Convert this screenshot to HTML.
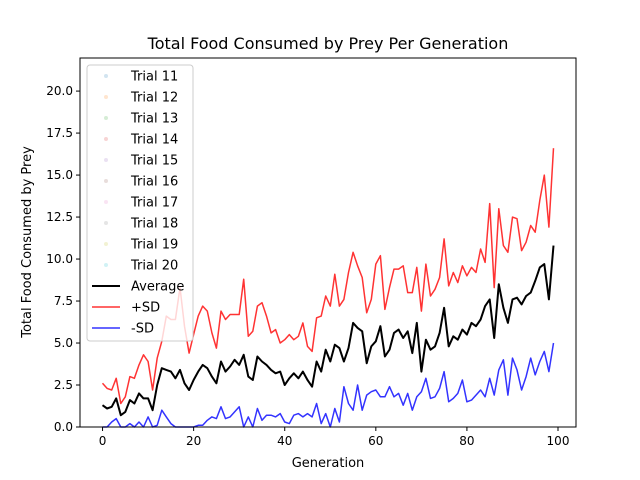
<!DOCTYPE html>
<html><head><meta charset="utf-8"><style>
body{margin:0;background:#fff}
svg{display:block;font-family:"DejaVu Sans","Liberation Sans",sans-serif}
</style></head><body>
<svg id="chart" width="640" height="480" viewBox="0 0 640 480">
<rect width="640" height="480" fill="#fff"/>
<text x="328" y="49" font-size="16" text-anchor="middle">Total Food Consumed by Prey Per Generation</text>
<g id="plot"></g>
<rect x="80" y="58" width="496" height="369" fill="none" stroke="#000" stroke-width="1"/>
<g id="ticks"></g>
<text x="328" y="467" font-size="13" text-anchor="middle">Generation</text>
<text transform="translate(31,242) rotate(-90)" font-size="13" text-anchor="middle">Total Food Consumed by Prey</text>
<g id="legend"></g>
</svg>
<script>
const avgValues=[1.3,1.1,1.2,1.7,0.7,0.9,1.6,1.4,2.0,1.7,
1.7,1.0,2.5,3.5,3.4,3.3,2.9,3.4,2.6,2.2,
2.8,3.3,3.7,3.5,3.0,2.6,3.9,3.3,3.6,4.0,
3.7,4.3,3.0,2.8,4.2,3.9,3.7,3.4,3.2,3.3,
2.5,2.9,3.2,2.9,3.3,2.8,2.4,3.9,3.3,4.6,
3.9,4.9,4.7,3.9,4.7,6.2,5.9,5.7,3.8,4.8,
5.1,6.0,4.2,4.6,5.6,5.8,5.3,5.7,4.4,6.2,
3.3,5.2,4.6,4.8,5.6,7.1,4.8,5.4,5.2,5.8,
5.5,6.2,6.0,6.4,7.2,7.6,5.3,8.5,7.1,6.2,
7.6,7.7,7.3,7.8,8.0,8.7,9.5,9.7,7.6,10.8];
const plusSdValues=[2.6,2.3,2.2,2.9,1.4,1.8,3.0,2.9,3.7,4.3,
3.9,2.2,4.1,5.1,6.6,6.4,6.4,8.3,6.0,4.4,
5.5,6.6,7.2,6.9,5.6,4.7,6.9,6.4,6.7,6.7,
6.7,8.8,5.4,5.7,7.2,7.4,6.6,5.6,5.8,5.0,
5.2,5.5,5.2,5.4,6.2,4.8,4.5,6.5,6.6,7.8,
7.2,9.1,7.2,7.6,9.2,10.4,9.6,8.9,6.8,7.6,
9.7,10.2,7.0,8.3,9.4,9.4,9.6,8.0,8.0,9.5,
6.9,9.7,7.8,8.2,8.9,11.2,8.4,9.2,8.6,9.6,
9.0,9.5,9.2,10.6,9.8,13.3,8.3,13.0,10.8,10.4,
12.5,12.4,10.5,11.0,12.0,11.6,13.5,15.0,11.9,16.6];
const minusSdValues=[0,0,0.3,0.5,0,0,0.2,0,0.3,0,
0.6,0,0.1,1.0,0.6,0.2,0,0,0,0,
0,0.1,0.1,0.4,0.6,0.5,1.2,0.5,0.6,0.9,
1.2,0,0.6,0,1.1,0.4,0.7,0.7,0.6,0.8,
0.3,0.2,0.7,0.8,0.6,0.8,0.6,1.4,0.2,0.8,
0,1.1,0.3,2.4,1.4,1.0,2.5,1.0,1.9,2.1,
2.2,1.8,1.8,2.4,1.8,2.0,1.3,2.0,1.0,1.8,
2.1,2.9,1.7,1.8,2.3,3.3,1.5,1.7,2.0,2.8,
1.5,1.6,1.9,2.2,1.8,2.9,1.9,3.4,4.0,1.9,
4.1,3.4,2.2,3.0,4.1,3.1,3.9,4.5,3.3,5.0];
const xTicks=[0,20,40,60,80,100];
const yTicks=[0,2.5,5,7.5,10,12.5,15,17.5,20];
const yTickLabels=["0.0","2.5","5.0","7.5","10.0","12.5","15.0","17.5","20.0"];
const legendLabels=["Trial 11","Trial 12","Trial 13","Trial 14","Trial 15","Trial 16","Trial 17","Trial 18","Trial 19","Trial 20","Average","+SD","-SD"];
const trialColors=["#1f77b4","#ff7f0e","#2ca02c","#d62728","#9467bd","#8c564b","#e377c2","#7f7f7f","#bcbd22","#17becf"];

const NS="http://www.w3.org/2000/svg";
const X0=80,X1=576,Y0=427,Y1=58,xMin=-4.95,xMax=103.95,yMin=0,yMax=21.97;
const xs=v=>X0+(v-xMin)/(xMax-xMin)*(X1-X0);
const ys=v=>Y0-(v-yMin)/(yMax-yMin)*(Y0-Y1);
function mk(tag,attrs,parent){const e=document.createElementNS(NS,tag);for(const k in attrs)e.setAttribute(k,attrs[k]);parent.appendChild(e);return e;}
const plot=document.getElementById('plot');
function line(vals,color,w,name){
  const p=mk('polyline',{points:vals.map((v,i)=>xs(i).toFixed(1)+','+ys(v).toFixed(1)).join(' '),fill:'none',stroke:color,'stroke-width':w,'stroke-linejoin':'round'},plot);
  
  
}
line(plusSdValues,'rgba(255,0,0,0.8)',1.5,'plus-sd-line');
line(minusSdValues,'rgba(0,0,255,0.8)',1.5,'minus-sd-line');
line(avgValues,'#000',2,'average-line');

const ticks=document.getElementById('ticks');
xTicks.forEach(t=>{
  const l=mk('line',{x1:xs(t),x2:xs(t),y1:Y0,y2:Y0+4,stroke:'#000'},ticks);
  
  
  const tx=mk('text',{x:xs(t),y:Y0+18,'font-size':12,'text-anchor':'middle'},ticks);
  
  
  tx.textContent=t;
});
yTicks.forEach((t,i)=>{
  const l=mk('line',{x1:X0-4,x2:X0,y1:ys(t),y2:ys(t),stroke:'#000'},ticks);
  
  
  const tx=mk('text',{x:X0-7,y:ys(t)+4,'font-size':12,'text-anchor':'end'},ticks);
  
  
  tx.textContent=yTickLabels[i];
});

const lg=document.getElementById('legend');
mk('rect',{x:87,y:65,width:106,height:276,rx:3,fill:'rgba(255,255,255,0.8)',stroke:'#ccc'},lg);
legendLabels.forEach((lab,i)=>{
  const y=76+i*21;
  const g=mk('g',{},lg);
  
  
  if(i<10){mk('circle',{cx:106,cy:y,r:2,fill:trialColors[i],'fill-opacity':0.2},g);}
  else{const c=i==10?'#000':i==11?'rgba(255,0,0,0.8)':'rgba(0,0,255,0.8)';mk('line',{x1:92,x2:120,y1:y,y2:y,stroke:c,'stroke-width':i==10?2:1.5},g);}
  const t=mk('text',{x:131,y:y+4.5,'font-size':13},g);
  t.textContent=lab;
});
</script>
</body></html>
